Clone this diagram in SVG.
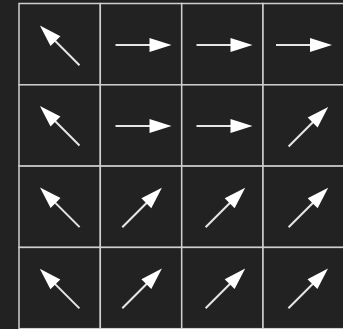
<svg xmlns="http://www.w3.org/2000/svg" xmlns:xlink="http://www.w3.org/1999/xlink" width="343" height="329" viewBox="0 0 343 329">
<style>
.cell{fill:#222222;stroke:#cfcfcf;stroke-width:1.5}
.shaft{stroke:#e6e6e6;stroke-width:2;stroke-linecap:butt}
.head{fill:#ffffff}
</style>
<defs>
<g id="arrow">
<line class="shaft" x1="0" y1="0" x2="35" y2="0"/>
<polygon class="head" points="56,0 34,-7 34,7"/>
</g>
</defs>
<rect x="0" y="0" width="343" height="329" fill="#222222"/>
<g id="cells">
<g id="c00"><rect class="cell" x="19" y="3.5" width="81.3" height="81.3"/><use xlink:href="#arrow" transform="translate(79.5,65.2) rotate(-135)"/></g>
<g id="c01"><rect class="cell" x="100.3" y="3.5" width="81.4" height="81.3"/><use xlink:href="#arrow" transform="translate(115.5,45) rotate(0)"/></g>
<g id="c02"><rect class="cell" x="181.7" y="3.5" width="81.3" height="81.3"/><use xlink:href="#arrow" transform="translate(196.5,45) rotate(0)"/></g>
<g id="c03"><rect class="cell" x="263" y="3.5" width="81.3" height="81.3"/><use xlink:href="#arrow" transform="translate(276,45) rotate(0)"/></g>
<g id="c10"><rect class="cell" x="19" y="84.8" width="81.3" height="81.3"/><use xlink:href="#arrow" transform="translate(79.5,145.5) rotate(-135)"/></g>
<g id="c11"><rect class="cell" x="100.3" y="84.8" width="81.4" height="81.3"/><use xlink:href="#arrow" transform="translate(115.5,126) rotate(0)"/></g>
<g id="c12"><rect class="cell" x="181.7" y="84.8" width="81.3" height="81.3"/><use xlink:href="#arrow" transform="translate(196.5,126) rotate(0)"/></g>
<g id="c13"><rect class="cell" x="263" y="84.8" width="81.3" height="81.3"/><use xlink:href="#arrow" transform="translate(288.6,146.5) rotate(-45)"/></g>
<g id="c20"><rect class="cell" x="19" y="166.1" width="81.3" height="81.3"/><use xlink:href="#arrow" transform="translate(79.6,227.1) rotate(-135)"/></g>
<g id="c21"><rect class="cell" x="100.3" y="166.1" width="81.4" height="81.3"/><use xlink:href="#arrow" transform="translate(122.3,227.3) rotate(-45)"/></g>
<g id="c22"><rect class="cell" x="181.7" y="166.1" width="81.3" height="81.3"/><use xlink:href="#arrow" transform="translate(205.6,227.3) rotate(-45)"/></g>
<g id="c23"><rect class="cell" x="263" y="166.1" width="81.3" height="81.3"/><use xlink:href="#arrow" transform="translate(288.6,227.3) rotate(-45)"/></g>
<g id="c30"><rect class="cell" x="19" y="247.4" width="81.3" height="81.3"/><use xlink:href="#arrow" transform="translate(79.4,308.4) rotate(-135)"/></g>
<g id="c31"><rect class="cell" x="100.3" y="247.4" width="81.4" height="81.3"/><use xlink:href="#arrow" transform="translate(122.3,308.2) rotate(-45)"/></g>
<g id="c32"><rect class="cell" x="181.7" y="247.4" width="81.3" height="81.3"/><use xlink:href="#arrow" transform="translate(205.6,308.2) rotate(-45)"/></g>
<g id="c33"><rect class="cell" x="263" y="247.4" width="81.3" height="81.3"/><use xlink:href="#arrow" transform="translate(288.4,308.2) rotate(-45)"/></g>
</g>
<g id="connectors"></g>
</svg>
